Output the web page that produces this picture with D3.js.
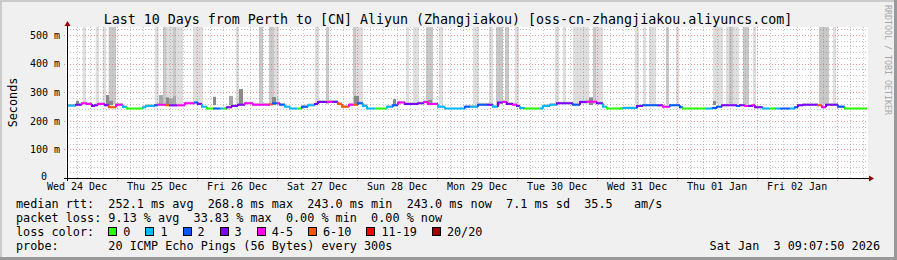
<!DOCTYPE html>
<html><head><meta charset="utf-8">
<script src="https://cdn.jsdelivr.net/npm/d3@7"></script>
<style>
html,body{margin:0;padding:0;background:#f0f0f0;overflow:hidden;}
svg{display:block;font-family:"DejaVu Sans Mono",monospace;}
</style></head><body>
<svg id="c" width="897" height="260"></svg>
<script>
// ---------------- data ----------------
const titleText = "Last 10 Days from Perth to [CN] Aliyun (Zhangjiakou) [oss-cn-zhangjiakou.aliyuncs.com]";
const yAxisTitle = "Seconds";
const watermark = "RRDTOOL / TOBI OETIKER";
const startTime = Date.UTC(2025, 11, 24, 9, 7, 50);
const endTime = Date.UTC(2026, 0, 3, 9, 7, 50);
const yTicks = [0, 100, 200, 300, 400, 500];
const yMax = 528;

const lossLabels = ["0", "1", "2", "3", "4-5", "6-10", "11-19", "20/20"];
const lossColors = ["#26ff00", "#00b8ff", "#0059ff", "#7e00ff", "#ff00ff", "#ff5500", "#ff0000", "#a10000"];

// median rtt: segment start (hours from start), value (ms), loss class index
const medStart = [0, 2.7, 4.5, 6, 7.5, 8.4, 9.3, 11.4, 12.6, 14.7, 16.8, 18, 22.8, 23.7, 26.4, 27.3, 29.7, 30.6, 33, 35.4,
  38.4, 39.3, 40.5, 42, 43.8, 45.9, 46.8, 48, 49.5, 51.3, 53.4, 55.8, 60.9, 61.8, 63, 63.9, 65.4, 66.9, 69, 70.5,
  72.3, 74.4, 75.3, 78, 79.5, 81.3, 82.5, 84.6, 85.8, 87.3, 88.8, 90, 92.4, 96, 97.8, 99.3, 101.4, 105.3, 107.1, 108.3,
  111.3, 113.4, 119.4, 120.9, 123.3, 126, 127.8, 129.3, 130.8, 132, 133.8, 135, 135.9, 137.4, 141.9, 142.8, 144.9, 147, 151.8, 153.9,
  156, 159, 160.8, 162, 166.8, 171, 172.8, 177, 178.8, 180.9, 183.9, 184.8, 191.4, 193.8, 195, 196.5, 201, 201.9, 203.4, 204.3,
  205.8, 206.4, 208.8, 210.9, 212.4, 213.9, 216.9, 218.4, 219.3, 220.8, 225.3, 226.5, 227.7, 231.3, 233.4];
const medValue = [253, 256, 261, 259, 252, 254, 259, 254, 247, 256, 248, 243, 247, 252, 254, 256, 254, 254, 254, 261,
  264, 259, 249, 243, 243, 243, 243, 247, 252, 256, 261, 256, 258, 261, 261, 256, 249, 243, 243, 249,
  254, 259, 266, 266, 266, 259, 249, 256, 256, 261, 252, 243, 243, 249, 254, 264, 259, 261, 266, 259,
  249, 243, 249, 249, 256, 256, 249, 264, 266, 259, 256, 252, 245, 243, 243, 252, 256, 261, 256, 266,
  267, 261, 249, 243, 245, 252, 254, 254, 249, 254, 247, 243, 243, 245, 249, 254, 252, 254, 252, 252,
  254, 247, 243, 243, 243, 243, 243, 247, 254, 256, 254, 247, 256, 249, 243];
const medLoss = [1, 3, 4, 4, 3, 3, 4, 3, 5, 4, 1, 0, 1, 1, 2, 4, 5, 3, 4, 4,
  2, 3, 1, 0, 2, 1, 0, 3, 3, 3, 4, 4, 5, 2, 4, 2, 1, 1, 0, 2,
  1, 3, 3, 4, 3, 5, 5, 4, 5, 2, 1, 1, 0, 1, 2, 4, 3, 3, 4, 4,
  1, 1, 2, 1, 2, 3, 1, 3, 4, 3, 4, 3, 1, 0, 1, 1, 1, 3, 2, 3,
  4, 3, 1, 0, 1, 3, 2, 3, 4, 2, 2, 0, 1, 2, 2, 3, 2, 3, 4, 3,
  4, 3, 1, 0, 1, 2, 1, 2, 3, 3, 5, 4, 3, 2, 0];

// smoke band regions around the median: start h, end h, ms below, ms above
const bandStart = [0, 22.8, 47, 70, 96, 119, 142.5, 166, 193, 218];
const bandEnd = [18, 40.5, 66, 90, 113, 136, 161, 184, 208, 233];
const bandDown = [3, 3, 3, 3, 3, 3, 3, 3, 3, 3];
const bandUp = [6, 6, 6, 7, 6, 7, 6, 5, 5, 5];

// smoke spikes: start h, end h, top ms, shade (0 dark, 1 mid)
const spikeStart = [2.7, 11.7, 12.6, 27.6, 29.7, 30.6, 31.8, 43.8, 48.6, 51.6, 61.5, 86.1, 97.8, 108.3, 156.6, 193.8];
const spikeEnd = [3.6, 12.6, 13.8, 28.8, 30.6, 31.8, 32.7, 44.7, 49.8, 52.8, 62.7, 87.6, 98.7, 109.5, 157.8, 194.7];
const spikeTop = [270, 290, 270, 290, 282, 278, 287, 284, 287, 311, 283, 287, 276, 273, 282, 269];
const spikeShade = [0, 0, 0, 1, 0, 1, 1, 0, 1, 0, 0, 0, 0, 0, 0, 0];

// tall smoke columns (lost pings): start h, end h, shade (0 light, 1 medium)
const colStart = [4.7, 8.6, 10.7, 12.5, 26.4, 28.8, 29.9, 31.8, 32.7, 37.8, 50.7, 57.6, 60.6, 62.1, 74.4, 77.7, 85.8, 86.7, 101.7, 103.8,
  107.7, 111.6, 121.8, 126.6, 128.7, 131.4, 134.4, 146.4, 148.8, 151.8, 157.8, 158.7, 170.4, 172.8, 174.6, 179.7, 182.7, 193.8, 197.7, 198.6,
  199.8, 202.8, 205.8, 225.6, 229.8];
const colEnd = [5.7, 9.6, 11.7, 14.7, 27.5, 29.9, 31.8, 32.7, 34.8, 40.8, 51.6, 58.8, 62.1, 63.6, 75.6, 78.6, 86.7, 88.8, 102.6, 105.6,
  109.8, 112.8, 123.6, 127.8, 130.8, 132.6, 135.6, 147.6, 149.7, 156.6, 158.7, 160.8, 171.6, 173.7, 176.7, 180.6, 183.6, 196.8, 198.6, 199.8,
  201.6, 204.6, 206.7, 228.6, 230.7];
const colShade = [0, 0, 0, 1, 0, 1, 0, 1, 0, 0, 0, 1, 1, 0, 0, 1, 1, 0, 0, 0,
  1, 0, 0, 0, 1, 1, 0, 0, 0, 0, 1, 0, 0, 0, 0, 1, 0, 0, 0, 1,
  0, 1, 0, 1, 0];

const legendLines = [
  "median rtt:  252.1 ms avg  268.8 ms max  243.0 ms min  243.0 ms now  7.1 ms sd  35.5   am/s",
  "packet loss: 9.13 % avg  33.83 % max  0.00 % min  0.00 % now"
];
const lossColorLabel = "loss color:";
const probeLine = "probe:       20 ICMP Echo Pings (56 Bytes) every 300s";
const dateStamp = "Sat Jan  3 09:07:50 2026";

// ---------------- drawing ----------------
const W = 897, H = 260;
const L = 67, R = 867, T = 27, B = 178;
const svg = d3.select("#c");
const hr = h => new Date(startTime + h * 3600e3);
const keep = s => s.replace(/ /g, "\u00a0");

const x = d3.scaleUtc().domain([new Date(startTime), new Date(endTime)]).range([L, R]);
const y = d3.scaleLinear().domain([0, yMax]).range([B, T]);

// frame
svg.append("rect").attr("width", W).attr("height", H).attr("fill", "#f0f0f0");
svg.append("rect").attr("x", 0).attr("y", 0).attr("width", W).attr("height", 2).attr("fill", "#cbcbcb");
svg.append("rect").attr("x", 0).attr("y", 0).attr("width", 2).attr("height", H).attr("fill", "#cbcbcb");
svg.append("rect").attr("x", W - 3).attr("y", 0).attr("width", 3).attr("height", H).attr("fill", "#999");
svg.append("rect").attr("x", 0).attr("y", H - 3).attr("width", W).attr("height", 3).attr("fill", "#999");

// canvas
svg.append("rect").attr("x", L - 1).attr("y", T).attr("width", R - L + 2).attr("height", B - T).attr("fill", "#fff");

const plot = svg.append("g");
plot.append("clipPath").attr("id", "clip").append("rect").attr("x", L).attr("y", T).attr("width", R - L).attr("height", B - T);
const data = plot.append("g").attr("clip-path", "url(#clip)");

// tall columns
const colShades = ["#dedede", "#c8c8c8"];
data.selectAll("rect.col").data(colStart.map((s, i) => ({ s, e: colEnd[i], c: colShade[i] }))).join("rect")
  .attr("class", "col")
  .attr("x", d => x(hr(d.s))).attr("width", d => x(hr(d.e)) - x(hr(d.s)))
  .attr("y", y(yMax)).attr("height", y(258) - y(yMax))
  .attr("fill", d => colShades[d.c]);

// smoke band
const segs = medStart.map((s, i) => ({ s, e: i < medStart.length - 1 ? medStart[i + 1] : 240, v: medValue[i], l: medLoss[i] }));
const bandSegs = [];
segs.forEach(sg => {
  bandStart.forEach((bs, j) => {
    const a = Math.max(bs, sg.s), b = Math.min(bandEnd[j], sg.e);
    if (b > a) bandSegs.push({ s: a, e: b, lo: sg.v - bandDown[j], hi: sg.v + bandUp[j] });
  });
});
data.selectAll("rect.band").data(bandSegs).join("rect").attr("class", "band")
  .attr("x", d => x(hr(d.s))).attr("width", d => x(hr(d.e)) - x(hr(d.s)))
  .attr("y", d => y(d.hi)).attr("height", d => y(d.lo) - y(d.hi))
  .attr("fill", "#c6c6c6");

// spikes
const spikeShades = ["#8a8a8a", "#a8a8a8"];
data.selectAll("rect.spike").data(spikeStart.map((s, i) => ({ s, e: spikeEnd[i], t: spikeTop[i], c: spikeShade[i] }))).join("rect")
  .attr("class", "spike")
  .attr("x", d => x(hr(d.s))).attr("width", d => x(hr(d.e)) - x(hr(d.s)))
  .attr("y", d => y(d.t)).attr("height", d => y(255) - y(d.t))
  .attr("fill", d => spikeShades[d.c]);

// grid (drawn on top of smoke)
const grid = plot.append("g");
const minorY = d3.range(20, yMax, 20).filter(v => v % 100 !== 0);
grid.selectAll("line.mgy").data(minorY).join("line")
  .attr("x1", L).attr("x2", R).attr("y1", d => Math.round(y(d)) + 0.5).attr("y2", d => Math.round(y(d)) + 0.5)
  .attr("stroke", "rgba(120,120,120,0.45)").attr("stroke-dasharray", "1,2");
const minorX = d3.utcHour.every(4).range(new Date(startTime), new Date(endTime)).filter(d => d.getUTCHours() !== 0);
grid.selectAll("line.mgx").data(minorX).join("line")
  .attr("x1", d => Math.round(x(d)) + 0.5).attr("x2", d => Math.round(x(d)) + 0.5).attr("y1", T).attr("y2", B)
  .attr("stroke", "rgba(120,120,120,0.45)").attr("stroke-dasharray", "1,2");
grid.selectAll("line.Mgy").data(yTicks.filter(v => v > 0)).join("line")
  .attr("x1", L - 3).attr("x2", R).attr("y1", d => Math.round(y(d)) + 0.5).attr("y2", d => Math.round(y(d)) + 0.5)
  .attr("stroke", "rgba(225,80,80,0.6)").attr("stroke-dasharray", "1,2");
const days = d3.utcDay.range(new Date(startTime), new Date(endTime));
grid.selectAll("line.Mgx").data(days).join("line")
  .attr("x1", d => Math.round(x(d)) + 0.5).attr("x2", d => Math.round(x(d)) + 0.5).attr("y1", T).attr("y2", B + 3)
  .attr("stroke", "rgba(225,80,80,0.6)").attr("stroke-dasharray", "1,2");

// median line
const med = plot.append("g").attr("clip-path", "url(#clip)");
med.selectAll("path.m").data(segs).join("path").attr("class", "m")
  .attr("d", (d, i) => {
    const x0 = x(hr(d.s)), x1 = x(hr(d.e)), yy = y(d.v);
    const yp = i > 0 ? y(segs[i - 1].v) : yy;
    return `M${x0},${yp}L${x0},${yy}L${x1},${yy}`;
  })
  .attr("fill", "none").attr("stroke", d => lossColors[d.l]).attr("stroke-width", 2);

// axes
const fmtY = d => d === 0 ? "0" : `${d}\u00a0m`;
const ya = svg.append("g").attr("transform", `translate(${L},0)`)
  .call(d3.axisLeft(y).tickValues(yTicks).tickSize(0).tickPadding(7).tickFormat(fmtY));
ya.select(".domain").remove();
ya.selectAll("text").attr("font-family", "DejaVu Sans Mono").attr("font-size", 10).attr("fill", "#000")
  .attr("x", d => d === 0 ? -20 : -7).attr("dy", d => d === 0 ? "0.15em" : "0.32em");

const noons = d3.utcDay.range(d3.utcDay.floor(new Date(startTime)), new Date(endTime))
  .map(d => d3.utcHour.offset(d, 12)).filter(d => d >= startTime && d <= endTime);
const xa = svg.append("g").attr("transform", `translate(0,${B})`)
  .call(d3.axisBottom(x).tickValues(noons).tickSize(0).tickPadding(4).tickFormat(d3.utcFormat("%a %d %b")));
xa.select(".domain").remove();
xa.selectAll("text").attr("font-family", "DejaVu Sans Mono").attr("font-size", 10).attr("fill", "#000")
  .attr("y", 11.5).attr("dy", 0).text(function () { return keep(this.textContent); });

// axis lines + arrows
svg.append("line").attr("x1", L - 3).attr("x2", R + 3).attr("y1", B + 0.5).attr("y2", B + 0.5).attr("stroke", "#000");
svg.append("line").attr("x1", L + 0.5).attr("x2", L + 0.5).attr("y1", T - 4).attr("y2", B + 3).attr("stroke", "#000");
svg.append("path").attr("d", `M${L - 2.5},${T - 1}L${L + 0.5},${T - 6}L${L + 3.5},${T - 1}Z`).attr("fill", "#a00000");
svg.append("path").attr("d", `M${R + 2},${B - 2.5}L${R + 7},${B + 0.5}L${R + 2},${B + 3.5}Z`).attr("fill", "#a00000");

// title
svg.append("text").attr("x", 448).attr("y", 23.5).attr("text-anchor", "middle")
  .attr("font-size", 13.3).attr("fill", "#000").text(titleText);

// y title
svg.append("text").attr("transform", `translate(16.5,${(T + B) / 2}) rotate(-90)`).attr("text-anchor", "middle")
  .attr("font-size", 11.8).attr("fill", "#000").text(yAxisTitle);

// watermark
svg.append("text").attr("transform", `translate(884.5,5) rotate(90)`).attr("text-anchor", "start")
  .attr("font-size", 8.3).attr("fill", "#a8a8a8").text(keep(watermark));

// legend
const lg = svg.append("g").attr("font-size", 11.8).attr("fill", "#000");
lg.append("text").attr("x", 16).attr("y", 207.5).text(keep(legendLines[0]));
lg.append("text").attr("x", 16).attr("y", 221.7).text(keep(legendLines[1]));
lg.append("text").attr("x", 16).attr("y", 235.7).text(keep(lossColorLabel));
lg.append("text").attr("x", 16).attr("y", 250).text(keep(probeLine));
lg.append("text").attr("x", 880).attr("y", 250).attr("text-anchor", "end").text(keep(dateStamp));

const cw = 7.1;
let bx = 16 + 13 * cw;
lossLabels.forEach((lab, i) => {
  lg.append("rect").attr("x", Math.round(bx) + 0.5).attr("y", 227.5).attr("width", 8).attr("height", 8)
    .attr("fill", lossColors[i]).attr("stroke", "#000").attr("stroke-width", 1);
  lg.append("text").attr("x", bx + 15).attr("y", 235.7).text(lab);
  bx += 15 + lab.length * cw + 15;
});
</script>
</body></html>
